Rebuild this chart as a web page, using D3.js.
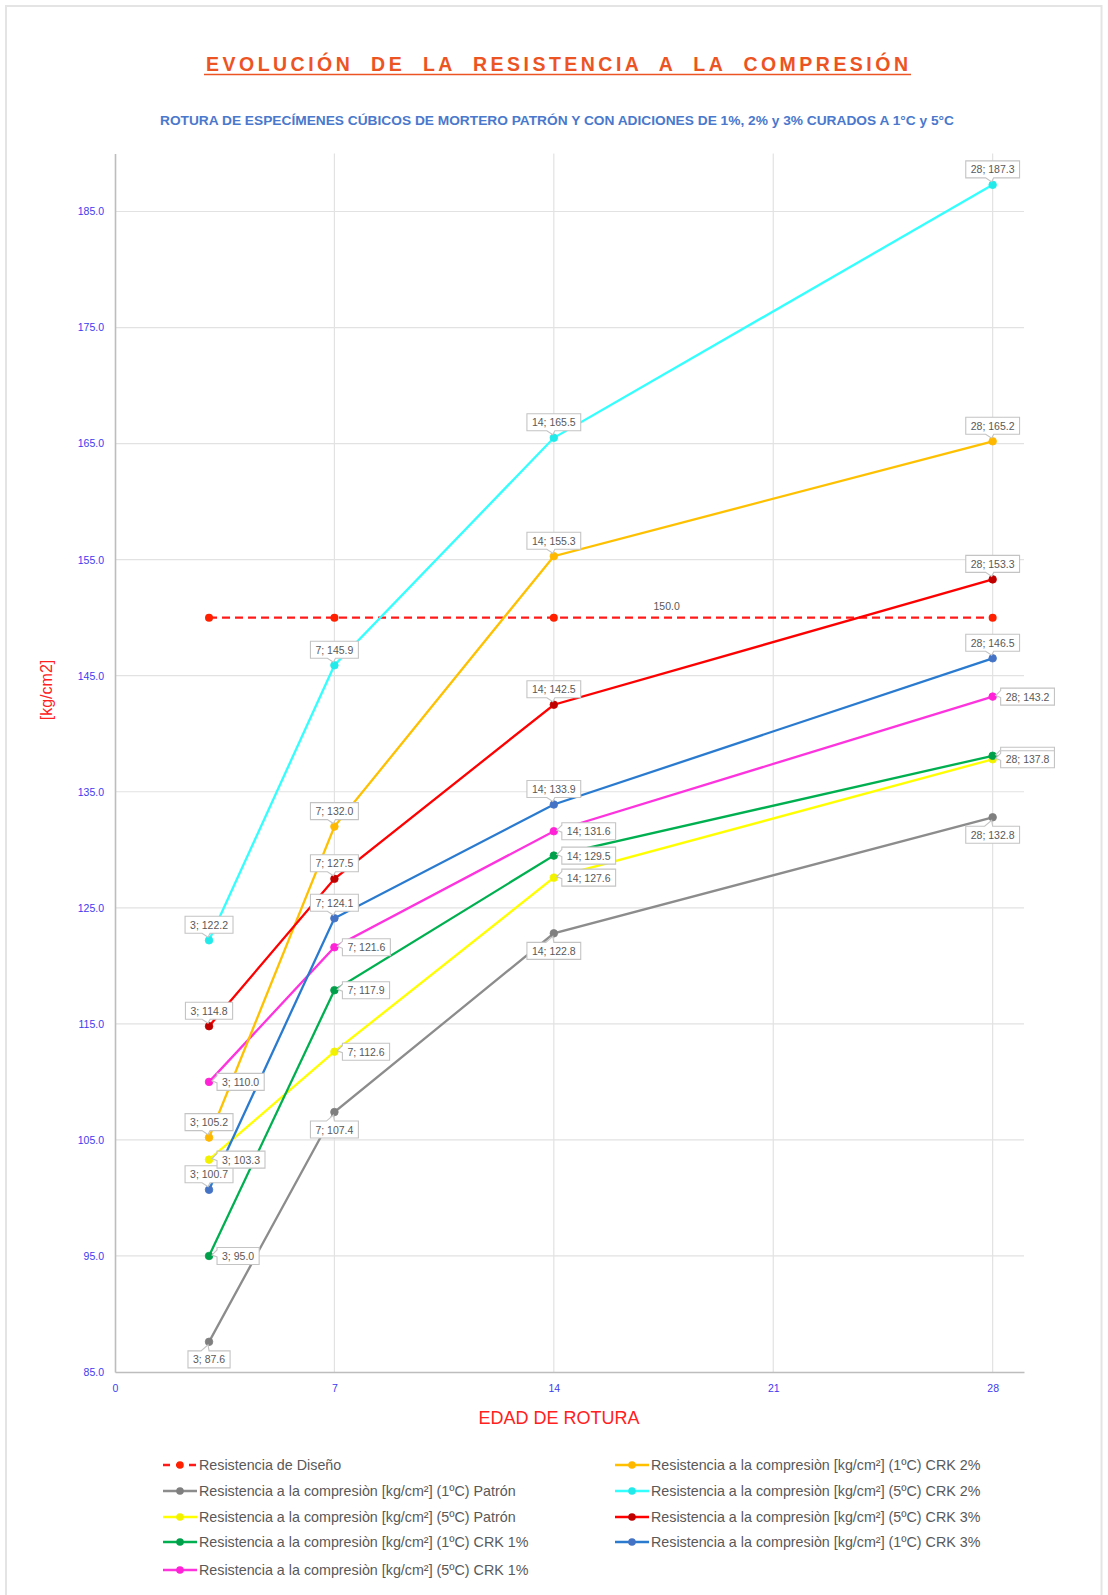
<!DOCTYPE html>
<html>
<head>
<meta charset="utf-8">
<script src="https://cdn.jsdelivr.net/npm/d3@7"></script>
<style>
  html, body { margin: 0; padding: 0; background: #ffffff; }
  svg { display: block; }
</style>
</head>
<body>
<script>
// Compressive strength of mortar cubes by curing age
const ages = [3, 7, 14, 28];
const xTickValues = [0, 7, 14, 21, 28];
const yTickValues = [85, 95, 105, 115, 125, 135, 145, 155, 165, 175, 185];

const disenoValues = [150, 150, 150, 150];
const patron1C = [87.6, 107.4, 122.8, 132.8];
const patron5C = [103.3, 112.6, 127.6, 137.8];
const crk1p1C = [95.0, 117.9, 129.5, 138.1];
const crk1p5C = [110.0, 121.6, 131.6, 143.2];
const crk2p1C = [105.2, 132.0, 155.3, 165.2];
const crk2p5C = [122.2, 145.9, 165.5, 187.3];
const crk3p5C = [114.8, 127.5, 142.5, 153.3];
const crk3p1C = [100.7, 124.1, 133.9, 146.5];

const titleText = "EVOLUCIÓN  DE  LA  RESISTENCIA  A  LA  COMPRESIÓN";
const subtitleText = "ROTURA DE ESPECÍMENES CÚBICOS DE MORTERO PATRÓN Y CON ADICIONES DE 1%, 2% y 3% CURADOS A 1°C y 5°C";
const xTitle = "EDAD DE ROTURA";
const yTitle = "[kg/cm2]";

const disenoName = "Resistencia de Diseño";
const seriesNames = {
  patron1C: "Resistencia a la compresiòn [kg/cm²] (1ºC) Patrón",
  patron5C: "Resistencia a la compresiòn [kg/cm²] (5ºC) Patrón",
  crk1p1C: "Resistencia a la compresiòn [kg/cm²] (1ºC) CRK 1%",
  crk1p5C: "Resistencia a la compresiòn [kg/cm²] (5ºC) CRK 1%",
  crk2p1C: "Resistencia a la compresiòn [kg/cm²] (1ºC) CRK 2%",
  crk2p5C: "Resistencia a la compresiòn [kg/cm²] (5ºC) CRK 2%",
  crk3p5C: "Resistencia a la compresiòn [kg/cm²] (5ºC) CRK 3%",
  crk3p1C: "Resistencia a la compresiòn [kg/cm²] (1ºC) CRK 3%"
};

// Series styling and label placement
const series = [
  { key: "patron1C", values: patron1C, line: "#8c8c8c", marker: "#7f7f7f", place: "below", col: 0, row: 1 },
  { key: "patron5C", values: patron5C, line: "#ffff00", marker: "#f2f200", place: "right", col: 0, row: 2 },
  { key: "crk1p1C",  values: crk1p1C,  line: "#00b050", marker: "#00a04a", place: "right", col: 0, row: 3 },
  { key: "crk1p5C",  values: crk1p5C,  line: "#ff33dd", marker: "#ff22d6", place: "right", col: 0, row: 4 },
  { key: "crk2p1C",  values: crk2p1C,  line: "#ffc000", marker: "#ffb800", place: "above", col: 1, row: 0 },
  { key: "crk2p5C",  values: crk2p5C,  line: "#33ffff", marker: "#22eaea", place: "above", col: 1, row: 1 },
  { key: "crk3p5C",  values: crk3p5C,  line: "#ff0000", marker: "#c00000", place: "above", col: 1, row: 2 },
  { key: "crk3p1C",  values: crk3p1C,  line: "#2a7bd0", marker: "#4472c4", place: "above", col: 1, row: 3 }
];
// Labels drawn in this order so overlapping boxes stack correctly
const labelOrder = ["patron1C", "crk2p1C", "crk2p5C", "crk3p5C", "crk3p1C", "crk1p1C", "crk1p5C", "patron5C"];
// Callouts whose text is fully covered by a neighbouring callout: only the frame shows
const coveredLabels = [{ key: "crk1p1C", age: 28 }];

const W = 1108, H = 1595;
const svg = d3.select("body").append("svg").attr("width", W).attr("height", H);

// outer frame
svg.append("rect").attr("x", 6).attr("y", 6).attr("width", W - 12.5).attr("height", H + 20)
  .attr("fill", "#ffffff").attr("stroke", "#e4e4e4").attr("stroke-width", 2);

const x = d3.scaleLinear().domain([0, 29]).range([115, 1024]);
const y = d3.scaleLinear().domain([85, 190]).range([1372, 153.5]);

// Titles
svg.append("text")
  .attr("x", 206).attr("y", 71)
  .attr("textLength", 702).attr("lengthAdjust", "spacing")
  .attr("font-family", "'Liberation Sans', Arial, sans-serif")
  .attr("font-weight", "bold").attr("font-size", 19.5)
  .attr("fill", "#ec5424")
  .style("white-space", "pre")
  .text(titleText);
svg.append("line").attr("x1", 204).attr("x2", 911).attr("y1", 74.5).attr("y2", 74.5)
  .attr("stroke", "#ec5424").attr("stroke-width", 1.6);

svg.append("text")
  .attr("x", 160).attr("y", 125)
  .attr("textLength", 794).attr("lengthAdjust", "spacingAndGlyphs")
  .attr("font-family", "'Liberation Sans Narrow', 'Liberation Sans', Arial, sans-serif")
  .attr("font-weight", "bold").attr("font-size", 13.5)
  .attr("fill", "#4a78cc")
  .text(subtitleText);

// Gridlines
const grid = svg.append("g");
grid.selectAll("line.h").data(yTickValues.slice(1)).join("line")
  .attr("x1", x(0)).attr("x2", x(29))
  .attr("y1", d => y(d)).attr("y2", d => y(d))
  .attr("stroke", "#e2e2e2").attr("stroke-width", 1.2);
grid.selectAll("line.v").data(xTickValues.slice(1)).join("line")
  .attr("x1", d => x(d)).attr("x2", d => x(d))
  .attr("y1", y(190)).attr("y2", y(85))
  .attr("stroke", "#e2e2e2").attr("stroke-width", 1.2);

// Axes
const tickFont = "'Liberation Sans Narrow', 'Liberation Sans', Arial, sans-serif";
const yAxis = svg.append("g").attr("transform", `translate(${x(0)},0)`)
  .call(d3.axisLeft(y).tickValues(yTickValues).tickFormat(d3.format(".1f")).tickSize(0).tickPadding(11));
const xAxis = svg.append("g").attr("transform", `translate(0,${y(85)})`)
  .call(d3.axisBottom(x).tickValues(xTickValues).tickFormat(d3.format("d")).tickSize(0).tickPadding(13));
[yAxis, xAxis].forEach(a => {
  a.select(".domain").attr("stroke", "#bdbdbd").attr("stroke-width", 1.6);
  a.selectAll("text").attr("fill", "#3b3bf0").attr("font-size", 10.5).attr("font-family", tickFont);
});

svg.append("text")
  .attr("transform", `translate(52,${690}) rotate(-90)`)
  .attr("text-anchor", "middle")
  .attr("font-family", "'Liberation Sans', Arial, sans-serif").attr("font-size", 16)
  .attr("fill", "#ff2020").text(yTitle);
svg.append("text")
  .attr("x", 559).attr("y", 1424).attr("text-anchor", "middle")
  .attr("font-family", "'Liberation Sans', Arial, sans-serif").attr("font-size", 18)
  .attr("fill", "#ff2020").text(xTitle);

const lineGen = d3.line().x(d => x(d[0])).y(d => y(d[1]));
const plot = svg.append("g");

// Design strength (dashed)
const disenoPts = ages.map((a, i) => [a, disenoValues[i]]);
plot.append("path").attr("d", lineGen(disenoPts))
  .attr("fill", "none").attr("stroke", "#ff1a1a").attr("stroke-width", 2.2)
  .attr("stroke-dasharray", "8,5");
plot.selectAll("circle.dis").data(disenoPts).join("circle")
  .attr("cx", d => x(d[0])).attr("cy", d => y(d[1])).attr("r", 4)
  .attr("fill", "#ff2000");
plot.append("text")
  .attr("x", x(17.6)).attr("y", y(disenoValues[2]) - 8)
  .attr("text-anchor", "middle")
  .attr("font-family", "'Liberation Sans', Arial, sans-serif").attr("font-size", 10.5)
  .attr("fill", "#595959").text(d3.format(".1f")(disenoValues[2]));

// Strength series
series.forEach(s => {
  const pts = ages.map((a, i) => [a, s.values[i]]);
  plot.append("path").attr("d", lineGen(pts))
    .attr("fill", "none").attr("stroke", s.line).attr("stroke-width", 2.3);
  plot.selectAll(null).data(pts).join("circle")
    .attr("cx", d => x(d[0])).attr("cy", d => y(d[1])).attr("r", 3.8)
    .attr("fill", s.marker).attr("stroke", s.marker).attr("stroke-width", 0.8);
});

// Callout data labels
const labelLayer = svg.append("g");
const labelFont = "'Liberation Sans', Arial, sans-serif";
const bh = 17;
labelOrder.forEach(k => {
  const s = series.find(d => d.key === k);
  ages.forEach((a, i) => {
    const v = s.values[i];
    const px = x(a), py = y(v);
    const covered = coveredLabels.some(c => c.key === k && c.age === a);
    const g = labelLayer.append("g");
    const path = g.append("path");
    const t = g.append("text")
      .attr("font-family", labelFont).attr("font-size", 10.5)
      .attr("fill", "#595959")
      .text(`${a}; ${d3.format(".1f")(v)}`);
    const tw = t.node().getComputedTextLength();
    const bw = tw + 10;
    if (covered) t.remove();
    let x0, y0, d;
    if (s.place === "above") {
      x0 = px - bw / 2; y0 = py - 7 - bh;
      const y1 = y0 + bh;
      d = `M${x0},${y0}H${x0 + bw}V${y1}H${px + 1}L${px - 1},${py - 3}L${px - 7},${y1}H${x0}Z`;
    } else if (s.place === "below") {
      x0 = px - bw / 2; y0 = py + 9;
      d = `M${x0},${y0}H${px - 8}L${px - 1},${py + 3}L${px},${y0}H${x0 + bw}V${y0 + bh}H${x0}Z`;
    } else {
      x0 = px + 8; y0 = py - bh / 2;
      d = `M${x0},${y0}H${x0 + bw}V${y0 + bh}H${x0}V${py + 1}L${px + 3},${py - 1}L${x0},${py - 6}Z`;
    }
    path.attr("d", d).attr("fill", "#ffffff").attr("stroke", "#c4c4c4").attr("stroke-width", 1.1);
    if (!covered) t.attr("x", x0 + 5).attr("y", y0 + 12.5);
  });
});

// Legend
const legend = svg.append("g");
const rowsY = [1465, 1491, 1517, 1542, 1570];
const colX = [163, 615];
const legendFont = "'Liberation Sans', Arial, sans-serif";
function legendItem(cx, cy, color, markerColor, name, dashed) {
  const g = legend.append("g");
  g.append("line").attr("x1", cx).attr("x2", cx + 34).attr("y1", cy).attr("y2", cy)
    .attr("stroke", color).attr("stroke-width", 2.3)
    .attr("stroke-dasharray", dashed ? "7,6" : null);
  g.append("circle").attr("cx", cx + 17).attr("cy", cy).attr("r", 3.8).attr("fill", markerColor);
  g.append("text").attr("x", cx + 36).attr("y", cy + 5)
    .attr("font-family", legendFont).attr("font-size", 14.3).attr("fill", "#595959")
    .text(name);
}
legendItem(colX[0], rowsY[0], "#ff1a1a", "#ff2000", disenoName, true);
series.forEach(s => legendItem(colX[s.col], rowsY[s.row], s.line, s.marker, seriesNames[s.key], false));
</script>
</body>
</html>
